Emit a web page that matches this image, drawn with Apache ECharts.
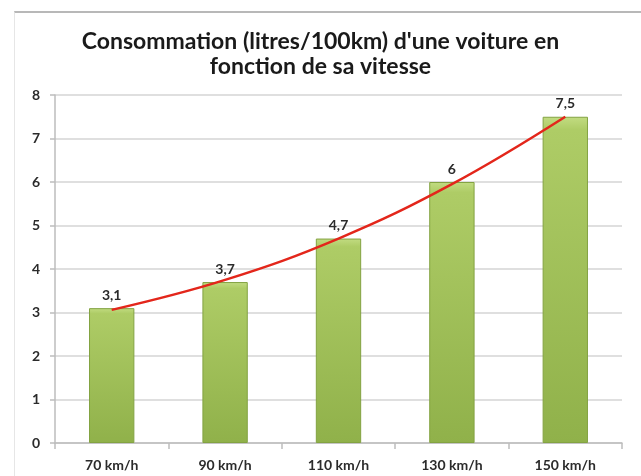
<!DOCTYPE html>
<html>
<head>
<meta charset="utf-8">
<script src="https://cdn.jsdelivr.net/npm/echarts@6/dist/echarts.min.js"></script>
<style>
  html, body { margin: 0; padding: 0; background: #fff; }
  #frame { position: absolute; left: 14px; top: 11px; width: 640px; height: 470px;
           border-left: 1px solid #e6e6e6; border-top: 2px solid #b8b8b8; }
  #chart { position: absolute; left: 0; top: 0; width: 641px; height: 476px; }
</style>
</head>
<body>
<div id="frame"></div>
<div id="chart"></div>
<script>
// vitesses et consommations
var vitesses = ['70 km/h', '90 km/h', '110 km/h', '130 km/h', '150 km/h'];
var consommation = [3.1, 3.7, 4.7, 6, 7.5];
var tendance = [3.06, 3.75, 4.7, 5.95, 7.5];
var yTicks = [0, 1, 2, 3, 4, 5, 6, 7, 8];

var myChart = echarts.init(document.getElementById('chart'));

var barColor = new echarts.graphic.LinearGradient(0, 0, 0, 1, [
  { offset: 0, color: '#c2dc82' },
  { offset: 0.04, color: '#aecc66' },
  { offset: 1, color: '#90b14a' }
]);

var labelFont = { color: '#2b2b2b', fontFamily: 'Lato', fontWeight: 'bold' };

myChart.setOption({
  animation: false,
  title: {
    text: 'Consommation (litres/100km) d\'une voiture en\nfonction de sa vitesse',
    left: 'center',
    top: 24,
    textStyle: {
      fontFamily: 'Lato',
      fontWeight: 'bold',
      fontSize: 23,
      lineHeight: 25,
      color: '#1a1a1a'
    }
  },
  grid: { left: 55, right: 19, top: 95, bottom: 33 },
  xAxis: {
    type: 'category',
    data: vitesses,
    axisLine: { lineStyle: { color: '#bdbdbd', width: 1.5 } },
    axisTick: { show: true, length: 6, lineStyle: { color: '#bdbdbd', width: 1.5 } },
    axisLabel: Object.assign({ margin: 15, fontSize: 14 }, labelFont)
  },
  yAxis: {
    type: 'value',
    min: yTicks[0],
    max: yTicks[yTicks.length - 1],
    interval: 1,
    axisLine: { show: true, lineStyle: { color: '#bdbdbd', width: 1.5 } },
    axisTick: { show: true, length: 5, lineStyle: { color: '#bdbdbd', width: 1.5 } },
    splitLine: { lineStyle: { color: '#d4d4d4', width: 1.5 } },
    axisLabel: Object.assign({ margin: 15, fontSize: 14 }, labelFont)
  },
  series: [
    {
      name: 'Consommation',
      type: 'bar',
      data: consommation,
      barWidth: '40%',
      itemStyle: {
        color: barColor,
        borderColor: '#83a342',
        borderWidth: 1
      },
      label: Object.assign({
        show: true,
        position: 'top',
        distance: 6,
        fontSize: 14,
        formatter: function (p) { return String(p.value).replace('.', ','); }
      }, labelFont)
    },
    {
      name: 'Tendance',
      type: 'line',
      data: tendance,
      smooth: 0.4,
      symbol: 'none',
      z: 5,
      lineStyle: { color: '#e3261b', width: 2.5 }
    }
  ]
});
</script>
</body>
</html>
